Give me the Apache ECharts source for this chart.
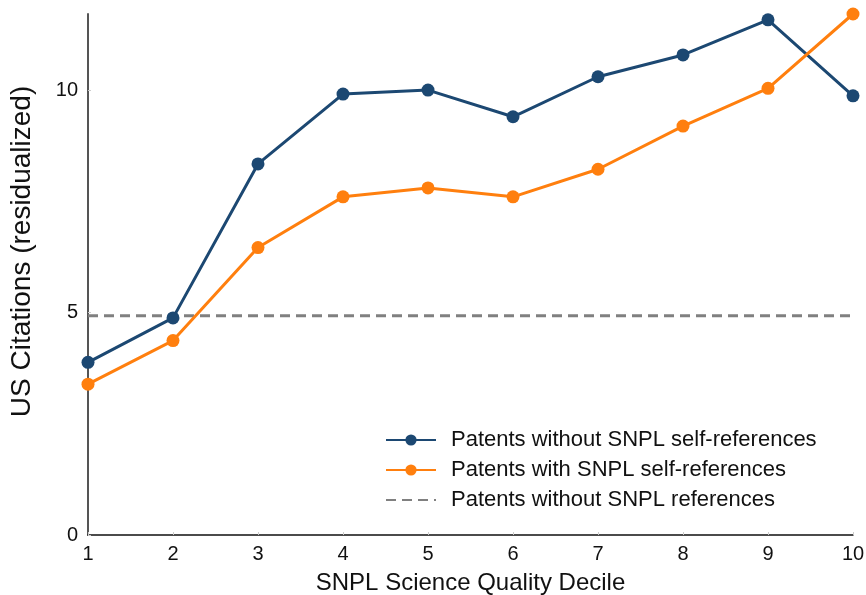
<!DOCTYPE html>
<html>
<head>
<meta charset="utf-8">
<script src="https://cdn.jsdelivr.net/npm/echarts@6/dist/echarts.min.js"></script>
<style>html,body{margin:0;padding:0;background:#fff}#c{width:866px;height:595px}</style>
</head>
<body>
<div id="c"></div>
<script>
var deciles = [1, 2, 3, 4, 5, 6, 7, 8, 9, 10];
var withoutSelf = [3.88, 4.88, 8.34, 9.91, 10.0, 9.40, 10.30, 10.79, 11.58, 9.87];
var withSelf = [3.39, 4.37, 6.46, 7.60, 7.80, 7.60, 8.22, 9.19, 10.04, 11.71];
var noRefs = [4.93, 4.93, 4.93, 4.93, 4.93, 4.93, 4.93, 4.93, 4.93, 4.93];
var seriesNames = ['Patents without SNPL self-references', 'Patents with SNPL self-references', 'Patents without SNPL references'];

function pairs(ys) { return deciles.map(function (x, i) { return [x, ys[i]]; }); }

var font = 'Liberation Sans, Arial, sans-serif';
var chart = echarts.init(document.getElementById('c'));
chart.setOption({
  animation: false,
  grid: { left: 88, right: 13, top: 14, bottom: 60, containLabel: false, outerBoundsMode: 'none' },
  legend: {
    orient: 'vertical', left: 380, top: 424, itemWidth: 50, itemHeight: 14, itemGap: 8,
    textStyle: { fontFamily: font, fontSize: 22, color: '#111', padding: [0, 0, 0, 10] },
    data: seriesNames
  },
  xAxis: {
    type: 'value', min: 1, max: 10, interval: 1,
    name: 'SNPL Science Quality Decile', nameLocation: 'middle', nameGap: 36,
    nameTextStyle: { fontFamily: font, fontSize: 24, color: '#111' },
    axisLine: { show: true, lineStyle: { color: '#111', width: 1.5 } },
    axisTick: { show: true, inside: true, length: 3, lineStyle: { color: '#ccc' } },
    axisLabel: { fontFamily: font, fontSize: 20, color: '#111', margin: 9 },
    splitLine: { show: false }
  },
  yAxis: {
    type: 'value', min: 0, max: 11.71, interval: 5,
    name: 'US Citations (residualized)', nameLocation: 'middle', nameGap: 52,
    nameTextStyle: { fontFamily: font, fontSize: 28, color: '#111', padding: [0, 0, 0, 46] },
    axisLine: { show: true, lineStyle: { color: '#555', width: 2 } },
    axisTick: { show: true, inside: true, length: 3, lineStyle: { color: '#ccc' } },
    axisLabel: { fontFamily: font, fontSize: 20, color: '#111', margin: 10, showMaxLabel: false },
    splitLine: { show: false }
  },
  series: [
    { name: seriesNames[0], type: 'line', data: pairs(withoutSelf), symbol: 'circle', symbolSize: 13,
      itemStyle: { color: '#1c4872' }, lineStyle: { color: '#1c4872', width: 3 }, z: 3 },
    { name: seriesNames[1], type: 'line', data: pairs(withSelf), symbol: 'circle', symbolSize: 13,
      itemStyle: { color: '#ff7f0e' }, lineStyle: { color: '#ff7f0e', width: 3 }, z: 4 },
    { name: seriesNames[2], type: 'line', data: pairs(noRefs), symbol: 'none',
      itemStyle: { color: 'rgba(128,128,128,0)' }, lineStyle: { color: '#808080', width: 3, type: [10, 6] }, z: 2 }
  ]
});
</script>
</body>
</html>
